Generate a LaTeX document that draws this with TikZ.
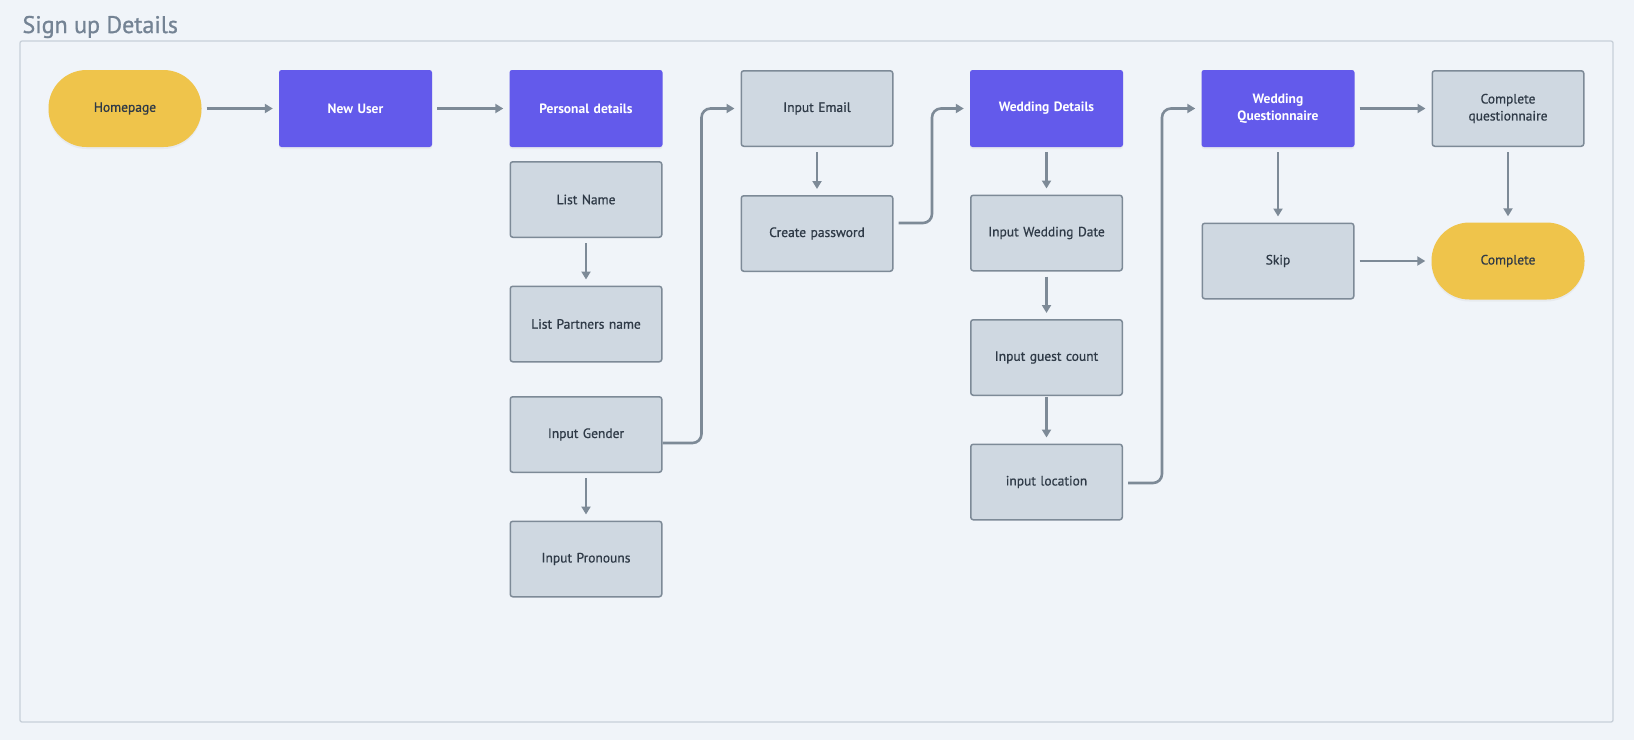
\documentclass[tikz,border=0pt]{standalone}
\usepackage{fontspec}
\setmainfont{PT Sans}
\newfontfamily\medfont{PT Sans}[FakeBold=0.8]
\newfontfamily\titlefont{PT Sans}[FakeBold=1.0]
\usetikzlibrary{arrows.meta,shadows}
\definecolor{bg}{HTML}{F0F4F9}
\definecolor{frameline}{HTML}{C8D0D9}
\definecolor{boxfill}{HTML}{CFD8E1}
\definecolor{boxline}{HTML}{7D8A97}
\definecolor{arrowc}{HTML}{7D8A97}
\definecolor{purp}{HTML}{635AEB}
\definecolor{yel}{HTML}{EFC44B}
\definecolor{textdark}{HTML}{2F3A47}
\definecolor{titlec}{HTML}{748394}
\begin{document}
\begin{tikzpicture}[x=1pt,y=-1pt,
  box/.style={rectangle, minimum width=151.5pt, minimum height=75.5pt, rounded corners=2.5pt,
    inner sep=2pt, align=center, text width=140pt, font=\fontsize{13.5}{17}\selectfont\medfont},
  grey/.style={box, fill=boxfill, draw=boxline, line width=1.5pt, text=textdark},
  purple/.style={box, minimum width=153pt, minimum height=77pt, fill=purp, text=white,
    font=\fontsize{13.5}{17}\selectfont\bfseries,
    drop shadow={opacity=0.08, shadow xshift=0pt, shadow yshift=-2pt}},
  term/.style={box, minimum width=153pt, minimum height=77pt, fill=yel, rounded corners=38pt, text=textdark,
    drop shadow={opacity=0.08, shadow xshift=0pt, shadow yshift=-2pt}},
  arr/.style={draw=arrowc, line width=2.6pt, -{Triangle[length=8pt,width=9pt]},
    shorten <=5pt, shorten >=6pt},
  elbow/.style={arr, rounded corners=9pt}
]
\fill[bg] (0,0) rectangle (1634,740);
\useasboundingbox (0,0) rectangle (1634,740);
\draw[frameline, line width=1.3pt, rounded corners=2pt] (20,41) rectangle (1613,722);
\node[anchor=base west, text=titlec, font=\fontsize{24}{28}\selectfont\titlefont] (title) at (19,33) {Sign up Details};

\node[term]   (home)     at (125,108.5)   {Homepage};
\node[purple] (newuser)  at (355.5,108.5) {New User};
\node[purple] (personal) at (586,108.5)   {Personal details};
\node[grey]   (email)    at (817,108.5)   {Input Email};
\node[purple] (wedding)  at (1046.5,108.5){Wedding Details};
\node[purple] (quest)    at (1278,108.5)  {Wedding\\Questionnaire};
\node[grey]   (compq)    at (1508,108.5)  {Complete\\questionnaire};

\node[grey] (listname) at (586,199.5) {List Name};
\node[grey] (partners) at (586,324)   {List Partners name};
\node[grey] (gender)   at (586,434.5) {Input Gender};
\node[grey] (pronouns) at (586,559)   {Input Pronouns};

\node[grey] (password) at (817,233.5) {Create password};

\node[grey] (date)     at (1046.5,233)   {Input Wedding Date};
\node[grey] (guest)    at (1046.5,357.5) {Input guest count};
\node[grey] (location) at (1046.5,482)   {input location};

\node[grey] (skip)     at (1278,261) {Skip};
\node[term] (complete) at (1508,261) {Complete};

\draw[arr] (home) -- (newuser);
\draw[arr] (newuser) -- (personal);
\draw[arr] (listname) -- (partners);
\draw[arr] (gender) -- (pronouns);
\draw[arr] (email) -- (password);
\draw[arr] (wedding) -- (date);
\draw[arr] (date) -- (guest);
\draw[arr, shorten <=1pt] (guest) -- (location);
\draw[arr] (quest) -- (compq);
\draw[arr] (quest) -- (skip);
\draw[arr] (compq) -- (complete);
\draw[arr] (skip) -- (complete);

\draw[elbow, shorten <=0pt] ([yshift=-8.5pt]gender.east) -- ++(39,0) |- (email.west);
\draw[elbow] ([yshift=10.5pt]password.east) -- ++(38.5,0) |- (wedding.west);
\draw[elbow] ([yshift=-1pt]location.east) -- ++(39,0) |- (quest.west);
\end{tikzpicture}
\end{document}
